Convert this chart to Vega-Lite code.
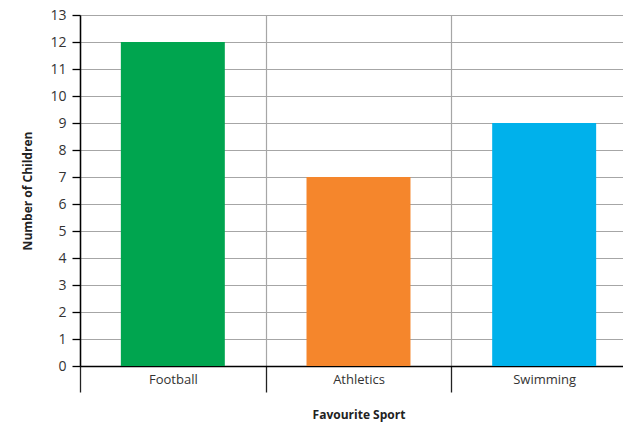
{
  "$schema": "https://vega.github.io/schema/vega-lite/v6.json",
  "autosize": "none",
  "padding": {"left": 80, "top": 15, "right": 0, "bottom": 56},
  "width": 557,
  "height": 351,
  "background": "white",
  "config": {
    "view": {"stroke": null},
    "font": "Open Sans"
  },
  "data": {
    "values": [
      {"sport": "Football", "children": 12, "color": "#00a54f"},
      {"sport": "Athletics", "children": 7, "color": "#f5862c"},
      {"sport": "Swimming", "children": 9, "color": "#00b1eb"}
    ]
  },
  "mark": {"type": "bar", "width": {"band": 0.56}},
  "encoding": {
    "x": {
      "field": "sport",
      "type": "nominal",
      "sort": null,
      "title": "Favourite Sport",
      "scale": {"paddingInner": 0, "paddingOuter": 0},
      "axis": {
        "labelAngle": 0,
        "tickBand": "extent",
        "grid": true,
        "gridColor": "#a6a6a6",
        "gridWidth": 1.2,
        "domainColor": "#000000",
        "domainWidth": 1.5,
        "tickColor": "#222222",
        "tickWidth": 1.3,
        "tickSize": 26,
        "labelPadding": -19,
        "labelFontSize": 13,
        "labelColor": "#333333",
        "titleFontSize": 12,
        "titleFontWeight": "bold",
        "titleColor": "#222222",
        "titlePadding": 17
      }
    },
    "y": {
      "field": "children",
      "type": "quantitative",
      "title": "Number of Children",
      "scale": {"domain": [0, 13], "nice": false},
      "axis": {
        "values": [0,1,2,3,4,5,6,7,8,9,10,11,12,13],
        "grid": true,
        "gridColor": "#a6a6a6",
        "gridWidth": 1.2,
        "domainColor": "#000000",
        "domainWidth": 1.5,
        "tickColor": "#000000",
        "tickWidth": 1.3,
        "tickSize": 8,
        "labelPadding": 6,
        "labelFontSize": 14,
        "labelColor": "#333333",
        "titleFontSize": 12,
        "titleFontWeight": "bold",
        "titleColor": "#222222",
        "titlePadding": 15
      }
    },
    "color": {"field": "color", "type": "nominal", "scale": null, "legend": null}
  }
}
